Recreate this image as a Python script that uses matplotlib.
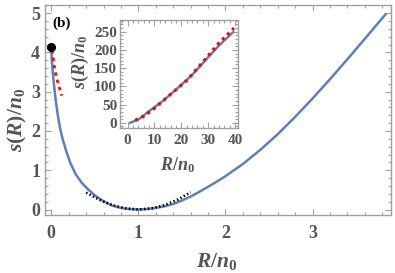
import matplotlib
matplotlib.use("Agg")
import matplotlib.pyplot as plt
from matplotlib.ticker import MultipleLocator

plt.rcParams['font.family'] = ['Liberation Serif', 'DejaVu Serif']
plt.rcParams['font.weight'] = 'bold'
plt.rcParams['mathtext.fontset'] = 'custom'
plt.rcParams['mathtext.it'] = 'Liberation Serif:italic:bold'
plt.rcParams['mathtext.rm'] = 'Liberation Serif:bold'
plt.rcParams['mathtext.bf'] = 'Liberation Serif:bold'

# ---- data ----
R_main = [0, 0.005, 0.015, 0.03, 0.05, 0.075, 0.1, 0.13, 0.17, 0.22, 0.28, 0.35,
          0.42, 0.5, 0.6, 0.7, 0.8, 0.9, 1.0, 1.1, 1.2, 1.3, 1.4, 1.5, 1.6,
          1.7, 1.8, 1.9, 2.0, 2.2, 2.4, 2.6, 2.8, 3.0, 3.2, 3.4, 3.6, 3.84]
s_main = [4.15, 3.85, 3.55, 3.2, 2.8, 2.4, 2.08, 1.8, 1.5, 1.18, 0.9, 0.68,
          0.52, 0.36, 0.21, 0.10, 0.04, 0.01, 0.0, 0.01, 0.04, 0.08, 0.14, 0.23, 0.33,
          0.45, 0.58, 0.71, 0.85, 1.16, 1.52, 1.92, 2.36, 2.83, 3.32, 3.83, 4.35, 4.98]

R_red_main = [0.01, 0.04, 0.08, 0.12]
s_red_main = [4.06, 3.55, 3.2, 2.9]

R_quad = [0.40, 0.55, 0.70, 0.85, 1.0, 1.15, 1.30, 1.45, 1.60]
s_quad = [0.43, 0.25, 0.11, 0.03, 0.0, 0.03, 0.11, 0.25, 0.44]

R_dot = [0.0]
s_dot = [4.15]

R_in = [1, 4, 8.4, 13, 18.3, 24, 29.4, 34, 39.3]
s_in = [0, 9, 34, 59, 93, 131, 175, 212, 249]

R_red_in = [2.8, 6, 10, 15, 22, 28, 34, 39.6]
s_red_in = [7, 18, 40, 72, 116, 167, 219, 260]

main_xticks = [0, 1, 2, 3]
main_yticks = [0, 1, 2, 3, 4, 5]
inset_xticks = [0, 10, 20, 30, 40]
inset_yticks = [0, 50, 100, 150, 200, 250]

# ---- styles ----
W, H = 395, 273
BLUE = '#5E81B5'
FRAME = '#A0A0A0'
TXT = '#555555'

fig = plt.figure(figsize=(W / 100, H / 100), dpi=100)

def rect(l, r, t, b):
    return [l / W, 1 - b / H, (r - l) / W, (b - t) / H]

def style(ax, size, xpad, ypad, xminor, yminor):
    for sp in ax.spines.values():
        sp.set_color(FRAME)
        sp.set_linewidth(1.0)
    ax.xaxis.set_minor_locator(MultipleLocator(xminor))
    ax.yaxis.set_minor_locator(MultipleLocator(yminor))
    ax.tick_params(which='both', direction='in', top=True, right=True,
                   color=FRAME, width=0.8, labelsize=size, labelcolor=TXT)
    ax.tick_params(which='major', length=4)
    ax.tick_params(which='minor', length=2)
    ax.tick_params(axis='x', which='major', pad=xpad)
    ax.tick_params(axis='y', which='major', pad=ypad)

# main axes
ax = fig.add_axes(rect(45, 391, 5, 215))
ax.plot(R_main, s_main, color=BLUE, lw=1.8, solid_capstyle='round',
        solid_joinstyle='round', zorder=2)
ax.plot(R_red_main, s_red_main, color='red', lw=2.0, linestyle=(0, (1.2, 1.5)), zorder=3)
ax.plot(R_quad, s_quad, color='black', lw=1.9, linestyle=(0, (0.55, 0.9)), zorder=3)
ax.plot(R_dot, s_dot, 'o', color='black', markersize=5.5, zorder=4)
ax.set_xlim(-0.072, 3.90)
ax.set_ylim(-0.14, 5.21)
ax.set_xticks(main_xticks)
ax.set_yticks(main_yticks)
style(ax, 13, 7, 3.5, 0.2, 0.2)

fig.text(61.5 / W, 1 - 23 / H, '(b)', fontweight='bold',
         fontsize=11, color='black', ha='center', va='center')
fig.text(217 / W, 1 - 262 / H, r'$R/n_0$', fontsize=15.5, color=TXT,
         ha='center', va='center')
fig.text(17 / W, 1 - 120 / H, r'$s(R)/n_0$', fontsize=15.5, color=TXT,
         ha='center', va='center', rotation=90)

# inset axes
ai = fig.add_axes(rect(120, 238.3, 20, 128.3))
ai.plot(R_in, s_in, color=BLUE, lw=1.8, solid_joinstyle='round', zorder=2)
ai.plot(R_red_in, s_red_in, color='red', lw=2.2, linestyle=(0, (1.0, 1.3)), zorder=3)
ai.set_xlim(-2.8, 41.2)
ai.set_ylim(-15, 282)
ai.set_xticks(inset_xticks)
ai.set_yticks(inset_yticks)
style(ai, 11, 4, 2, 2, 10)

fig.text(177 / W, 1 - 165 / H, r'$R/n_0$', fontsize=13, color=TXT,
         ha='center', va='center')
fig.text(80 / W, 1 - 62 / H, r'$s(R)/n_0$', fontsize=13, color=TXT,
         ha='center', va='center', rotation=90)

fig.savefig('out.png', dpi=100)
